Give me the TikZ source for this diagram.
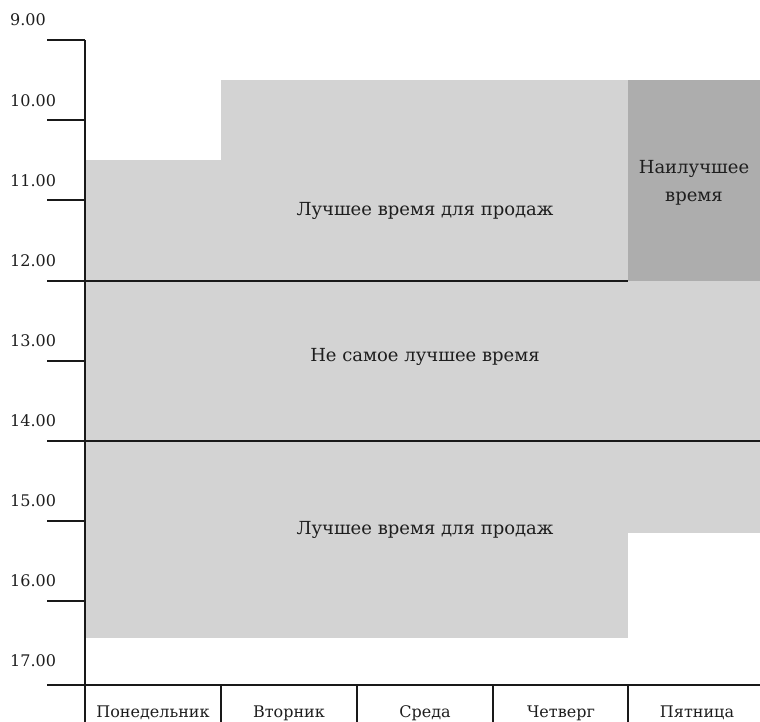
\documentclass[tikz,border=0pt]{standalone}
\usepackage{fontspec}
\setmainfont{DejaVu Serif}
\definecolor{lightfill}{HTML}{D3D3D3}
\definecolor{darkfill}{HTML}{ADADAD}
\definecolor{txt}{HTML}{1E1E1E}
\begin{document}
\begin{tikzpicture}[x=1pt,y=-1pt,
  axisline/.style={line width=1.3pt,black!90},
  lbl/.style={font=\fontsize{18}{28}\selectfont,text=txt,inner sep=0pt},
  ticklbl/.style={font=\fontsize{16}{19}\selectfont,text=txt,anchor=west,inner sep=0pt},
  daylbl/.style={font=\fontsize{16}{19}\selectfont,text=txt,inner sep=0pt,anchor=base}]
\useasboundingbox (0,0) rectangle (760,722);
% fills
\fill[lightfill] (85,160) rectangle (221,638);
\fill[lightfill] (221,80) rectangle (628,638);
\fill[lightfill] (628,281) rectangle (760,533);
\fill[darkfill] (628,80) rectangle (760,281);
% axis
\draw[axisline] (85,40) -- (85,722);
\foreach \y in {40,120,200,361,521,601}{\draw[axisline] (47,\y) -- (85,\y);}
\draw[axisline] (47,281) -- (628,281);
\draw[axisline] (47,441) -- (760,441);
\draw[axisline] (47,685) -- (760,685);
\foreach \x in {221,357,493,628}{\draw[axisline] (\x,685) -- (\x,722);}
% tick labels
\foreach \y/\t in {20/9.00,101/10.00,181/11.00,261/12.00,341/13.00,421/14.00,501/15.00,581/16.00,661/17.00}
  {\node[ticklbl] at (10,\y) {\t};}
% region labels
\node[lbl] (a) at (425,211) {Лучшее время для продаж};
\node[lbl] (b) at (425,357) {Не самое лучшее время};
\node[lbl] (c) at (425,530) {Лучшее время для продаж};
\node[lbl,align=center] (d) at (694,183) {Наилучшее\\время};
% day labels
\foreach \x/\t in {153/Понедельник,289/Вторник,425/Среда,561/Четверг,697/Пятница}
  {\node[daylbl] at (\x,717) {\t};}
\end{tikzpicture}
\end{document}
